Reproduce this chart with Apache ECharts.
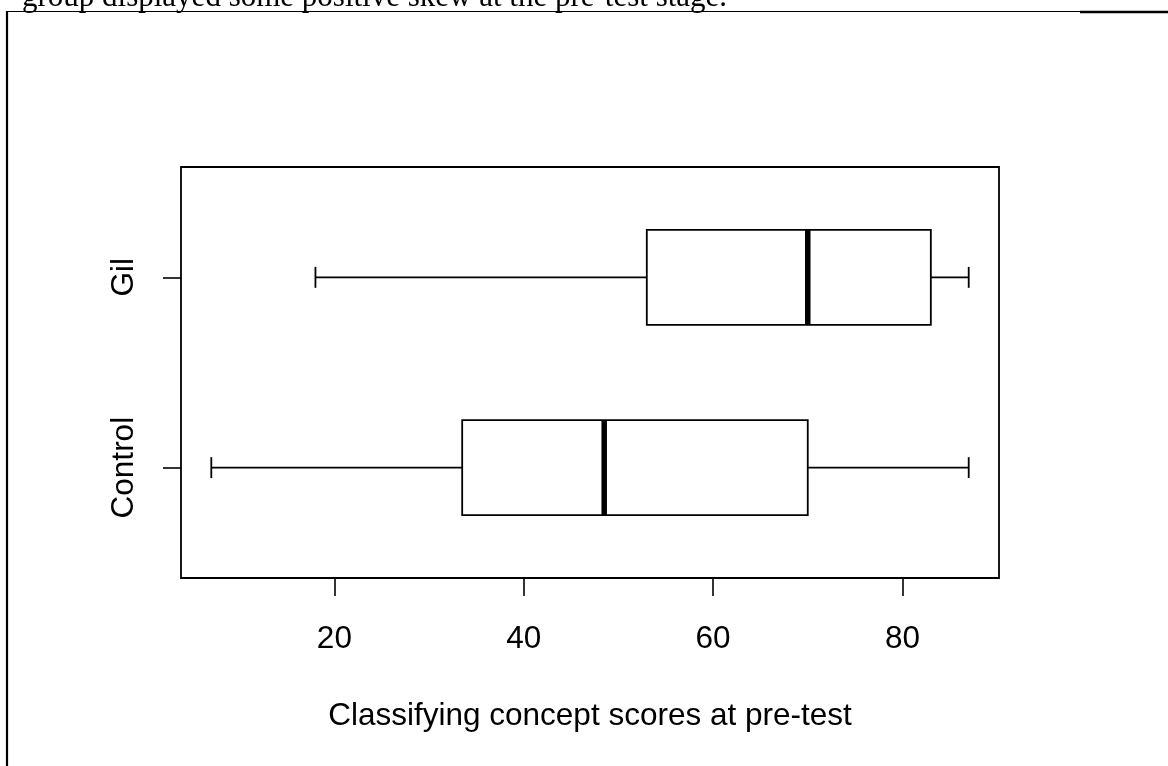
<!DOCTYPE html>
<html>
<head>
<meta charset="utf-8">
<title>Classifying concept scores at pre-test</title>
<script src="https://cdn.jsdelivr.net/npm/echarts@6/dist/echarts.min.js"></script>
<style>
  html, body { margin: 0; padding: 0; background: #fff; }
  #chart { width: 1168px; height: 766px; }
</style>
</head>
<body>
<div id="chart"></div>
<script>
// Groups, bottom to top
const categories = ['Control', 'Gil'];
const groupPositions = [1, 2];

// Five-number summaries per group
const lowWhisker    = [7, 18];
const lowerQuartile = [33.5, 53];
const medians       = [48.5, 70];
const upperQuartile = [70, 83];
const highWhisker   = [87, 87];

// Axis ticks and titles
const xTicks = [20, 40, 60, 80];
const xTitle = 'Classifying concept scores at pre-test';
const captionText = 'group displayed some positive skew at the pre-test stage.';

// Axis ranges extended by 4% on each side
const dataLo = Math.min(...lowWhisker);
const dataHi = Math.max(...highWhisker);
const xPad = 0.04 * (dataHi - dataLo);
const yLo = 0.5, yHi = categories.length + 0.5;
const yPad = 0.04 * (yHi - yLo);

const boxData = categories.map((c, i) => [
  groupPositions[i], lowWhisker[i], lowerQuartile[i], medians[i], upperQuartile[i], highWhisker[i]
]);

const BOX_HALF = 0.25;
const STAPLE_HALF = 0.055;
const INK = '#000';

function renderBox(params, api) {
  const y = api.value(0);
  const lo = api.value(1), q1 = api.value(2), med = api.value(3), q3 = api.value(4), hi = api.value(5);
  const p = (xv, yv) => api.coord([xv, yv]);
  const line = (a, b, w) => ({
    type: 'line',
    shape: { x1: a[0], y1: a[1], x2: b[0], y2: b[1] },
    style: { stroke: INK, lineWidth: w, lineCap: 'butt' }
  });
  const tl = p(q1, y + BOX_HALF);
  const br = p(q3, y - BOX_HALF);
  return {
    type: 'group',
    children: [
      line(p(lo, y), p(q1, y), 1.8),
      line(p(q3, y), p(hi, y), 1.8),
      line(p(lo, y - STAPLE_HALF), p(lo, y + STAPLE_HALF), 1.8),
      line(p(hi, y - STAPLE_HALF), p(hi, y + STAPLE_HALF), 1.8),
      {
        type: 'rect',
        shape: { x: tl[0], y: tl[1], width: br[0] - tl[0], height: br[1] - tl[1] },
        style: { fill: '#fff', stroke: INK, lineWidth: 1.8 }
      },
      line(p(med, y - BOX_HALF), p(med, y + BOX_HALF), 5.5)
    ]
  };
}

const chart = echarts.init(document.getElementById('chart'), null, { renderer: 'canvas' });

const FONT = "'Liberation Sans', Arial, Helvetica, sans-serif";
const FONT_SIZE = 31.5;

chart.setOption({
  animation: false,
  backgroundColor: '#fff',
  grid: {
    left: 181, top: 167, right: 169, bottom: 188,
    show: true, borderColor: INK, borderWidth: 1.8, backgroundColor: 'transparent'
  },
  xAxis: {
    type: 'value',
    min: dataLo - xPad,
    max: dataHi + xPad,
    splitLine: { show: false },
    axisLine: { show: false },
    axisTick: { show: true, customValues: xTicks, length: 18, lineStyle: { color: INK, width: 1.6 } },
    axisLabel: {
      customValues: xTicks, color: INK, fontSize: FONT_SIZE, fontFamily: FONT, margin: 45
    },
    name: xTitle,
    nameLocation: 'middle',
    nameGap: 122,
    nameTextStyle: { color: INK, fontSize: FONT_SIZE, fontFamily: FONT }
  },
  yAxis: {
    type: 'value',
    min: yLo - yPad,
    max: yHi + yPad,
    splitLine: { show: false },
    axisLine: { show: false },
    axisTick: { show: true, customValues: groupPositions, length: 18, lineStyle: { color: INK, width: 1.6 } },
    axisLabel: {
      customValues: groupPositions,
      rotate: 90,
      color: INK, fontSize: FONT_SIZE, fontFamily: FONT, margin: 41,
      formatter: (v) => categories[groupPositions.indexOf(Math.round(v))] || ''
    }
  },
  graphic: [
    {
      type: 'text', left: 22, top: -18, silent: true,
      style: { text: captionText, fill: INK, font: "31px 'Liberation Serif', 'Times New Roman', serif" }
    },
    { type: 'line', silent: true, shape: { x1: 7, y1: 11.5, x2: 1080, y2: 11.5 }, style: { stroke: INK, lineWidth: 1.2 } },
    { type: 'line', silent: true, shape: { x1: 1080, y1: 12, x2: 1168, y2: 12 }, style: { stroke: INK, lineWidth: 2.6 } },
    { type: 'line', silent: true, shape: { x1: 7, y1: 11, x2: 7, y2: 766 }, style: { stroke: INK, lineWidth: 2.2 } }
  ],
  series: [{
    type: 'custom',
    renderItem: renderBox,
    data: boxData,
    encode: { x: [1, 2, 3, 4, 5], y: 0 },
    clip: false
  }]
});
</script>
</body>
</html>
